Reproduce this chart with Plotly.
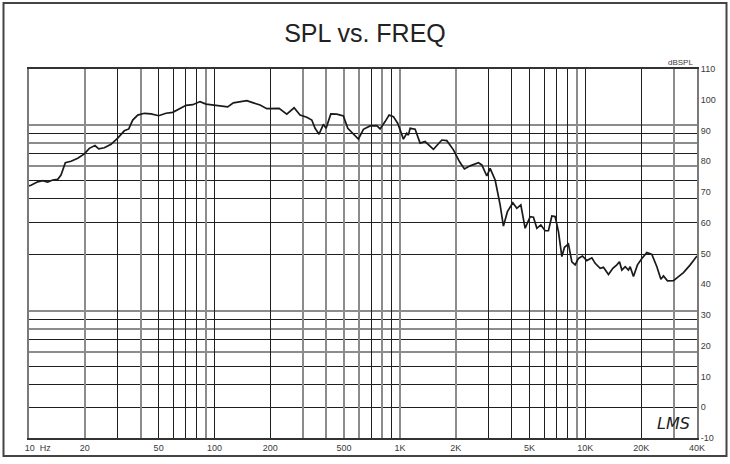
import math
import plotly.graph_objects as go

# ---------------- data ----------------
FREQ_HZ = [10, 10.25, 11.14, 11.86, 12.61, 13.42, 14.28, 14.88, 15.70, 16.85,
           18.31, 19.88, 21.15, 22.70, 23.76, 25.48, 27.69, 30.09, 32.66, 34.50,
           36.25, 38.58, 41.87, 45.50, 50.06, 54.8, 59.6, 64.7, 70.3, 76.4,
           83.6, 90.1, 97.9, 106.3, 117.9, 126.5, 137.5, 149.4, 162.1, 176.2,
           191.5, 207.8, 223.1, 245.5, 268.8, 289.5, 314.7, 334.9, 348.8, 366.6,
           386.7, 399.9, 424, 456.6, 495.7, 523.6, 561.4, 597.4, 635.6, 690.8,
           750.6, 782, 832.2, 874.4, 922.6, 974.3, 1002.5, 1044.5, 1089.5, 1111.3,
           1135, 1208, 1285, 1367.5, 1516, 1683, 1791, 1944, 2094, 2228,
           2391, 2651, 2765, 2942, 3065, 3263, 3471, 3616, 3800, 4064,
           4271, 4488, 4735, 5039, 5250, 5476, 5754, 6070, 6324, 6597,
           6873, 7161, 7470, 7716, 8106, 8456, 8810, 9180, 9647, 10188,
           10842, 11297, 12017, 12518, 13323, 14070, 14787, 15273, 15738, 16396,
           17083, 17444, 18170, 19098, 20172, 21464, 22839, 24302, 25540, 26383,
           27723, 29873, 31783, 33813, 36755, 40000]

SPL_DB = [72.0, 72.2, 73.3, 73.7, 73.2, 73.9, 74.1, 75.5, 79.5, 80.0,
          81.0, 82.4, 84.2, 85.1, 84.0, 84.4, 85.5, 87.5, 89.9, 90.5,
          93.4, 95.0, 95.6, 95.4, 94.8, 95.6, 95.9, 97.0, 98.2, 98.4,
          99.4, 98.6, 98.3, 98.2, 97.7, 99.0, 99.4, 99.7, 99.0, 98.3,
          97.1, 97.2, 97.2, 95.3, 97.4, 95.0, 94.3, 93.4, 90.7, 88.8,
          92.0, 90.7, 95.4, 95.3, 94.7, 90.7, 88.8, 87.2, 90.4, 91.5,
          91.6, 90.5, 92.9, 95.0, 94.5, 92.3, 90.2, 87.2, 89.1, 88.5,
          90.7, 90.4, 85.9, 86.4, 83.9, 86.9, 86.7, 83.7, 79.9, 77.5,
          78.5, 79.5, 78.8, 75.2, 77.7, 73.9, 65.8, 58.9, 63.6, 66.5,
          64.7, 65.8, 58.2, 62.0, 61.8, 58.2, 59.3, 57.4, 57.4, 62.2,
          62.0, 57.1, 49.0, 52.0, 53.1, 47.3, 46.3, 48.4, 49.2, 47.7,
          48.6, 46.8, 45.2, 45.5, 43.2, 45.2, 46.3, 47.3, 44.6, 45.7,
          44.6, 45.7, 42.5, 46.3, 48.4, 50.3, 49.7, 45.7, 41.6, 42.7,
          41.1, 41.2, 42.5, 43.8, 46.3, 49.2]

X_TICK_VALUES = [10, 20, 50, 100, 200, 500, 1000, 2000, 5000, 10000, 20000, 40000]
X_TICK_LABELS = ["10 Hz", "20", "50", "100", "200", "500", "1K", "2K", "5K",
                 "10K", "20K", "40K"]
Y_TICK_VALUES = [110, 100, 90, 80, 70, 60, 50, 40, 30, 20, 10, 0, -10]
Y_TICK_LABELS = ["110", "100", "90", "80", "70", "60", "50", "40", "30", "20",
                 "10", "0", "-10"]

# vertical grid lines (frequencies), grouped by how they are drawn
X_GRID_GRAY = [20, 40, 90, 300, 400, 500, 600, 800, 1000, 2000, 9000, 30000]
X_GRID_DARK = [30, 50, 60, 70, 80, 100, 200, 700, 900, 3000, 4000, 5000,
               6000, 7000, 8000, 10000, 20000]
# horizontal grid: a logarithmic ruling (mantissas per decade)
Y_GRID_GRAY_MANT = [1, 6, 8]
Y_GRID_DARK_MANT = [2, 3, 4, 5, 7, 9]
Y_GRID_DECADES = [0.1, 1, 10]

# ---------------- styling / layout ----------------
W, H = 730, 464
M_L, M_R, M_T, M_B = 29, 33, 69, 26
PW, PH = W - M_L - M_R, H - M_T - M_B

FONT = "Liberation Sans, Arial, Helvetica, sans-serif"
GRAY = "#8c8c8c"
DARK = "#1e1e1e"

x_range = [math.log10(10), math.log10(40000)]
px_per_decade = 185.7
yg_top = math.log10(20)
yg_range = [yg_top - PH / px_per_decade, yg_top]

yg_gray = [m * d for d in Y_GRID_DECADES for m in Y_GRID_GRAY_MANT]
yg_dark = [m * d for d in Y_GRID_DECADES for m in Y_GRID_DARK_MANT]

x_text = []
for t in X_TICK_LABELS:
    if t.endswith("Hz"):
        num = t.split(" ")[0]
        x_text.append("\u00a0" * 7 + num + "\u00a0\u00a0Hz")
    else:
        x_text.append(t)

fig = go.Figure()
# empty helper traces so that the overlaid grid axes are created
for xa, ya in [("x2", "y"), ("x3", "y"), ("x", "y2"), ("x", "y3")]:
    fig.add_trace(go.Scatter(x=[], y=[], xaxis=xa, yaxis=ya, mode="lines",
                             showlegend=False, hoverinfo="skip"))

fig.add_trace(go.Scatter(
    x=FREQ_HZ, y=SPL_DB, mode="lines",
    line=dict(color="#1a1a1a", width=1.7),
    showlegend=False, hovertemplate="%{x} Hz: %{y} dB<extra></extra>"))

tickfont = dict(family=FONT, size=9, color="#3a3a3a")

grid_axis_common = dict(showticklabels=False, showgrid=True, ticks="",
                        zeroline=False, showline=False, automargin=False,
                        tickmode="array")

fig.update_layout(
    width=W, height=H,
    margin=dict(l=M_L, r=M_R, t=M_T, b=M_B, pad=0, autoexpand=False),
    paper_bgcolor="white", plot_bgcolor="white",
    showlegend=False,
    title=dict(text="SPL vs. FREQ", x=0.5, xref="container", xanchor="center",
               y=1 - 33 / H, yref="container", yanchor="middle",
               font=dict(family=FONT, size=25, color="#222222")),
    xaxis=dict(type="log", range=x_range, tickmode="array",
               tickvals=X_TICK_VALUES, ticktext=x_text, tickfont=tickfont,
               showgrid=False, zeroline=False, ticks="", automargin=False,
               showline=True, mirror=True, linecolor="#333333", linewidth=1.5),
    xaxis2=dict(type="log", range=x_range, overlaying="x", anchor="y",
                tickvals=X_GRID_GRAY, gridcolor=GRAY, gridwidth=2,
                **grid_axis_common),
    xaxis3=dict(type="log", range=x_range, overlaying="x", anchor="y",
                tickvals=X_GRID_DARK, gridcolor=DARK, gridwidth=1,
                **grid_axis_common),
    yaxis=dict(range=[-10, 110], side="right", tickmode="array",
               tickvals=Y_TICK_VALUES, ticktext=Y_TICK_LABELS,
               tickfont=tickfont, showgrid=False,
               zeroline=False, ticks="", automargin=False,
               showline=True, mirror=True,
               linecolor="#7a7a7a", linewidth=2),
    yaxis2=dict(type="log", range=yg_range, overlaying="y", anchor="x",
                tickvals=yg_gray, gridcolor=GRAY, gridwidth=2,
                **grid_axis_common),
    yaxis3=dict(type="log", range=yg_range, overlaying="y", anchor="x",
                tickvals=yg_dark, gridcolor=DARK, gridwidth=1,
                **grid_axis_common),
)

def px_to_paper_x(px):
    return (px - M_L) / PW

def px_to_paper_y(py):
    return (M_T + PH - py) / PH

fig.add_annotation(text="dBSPL", xref="paper", yref="paper",
                   x=px_to_paper_x(695), y=px_to_paper_y(63),
                   xanchor="right", yanchor="middle", showarrow=False,
                   font=dict(family=FONT, size=8, color="#3a3a3a"))
fig.add_annotation(text="<i>LMS</i>", xref="paper", yref="paper",
                   x=px_to_paper_x(673), y=px_to_paper_y(423),
                   xanchor="center", yanchor="middle", showarrow=False,
                   font=dict(family="DejaVu Sans", size=16, color="#222222"))

# outer frame of the picture
fig.add_shape(type="rect", xref="paper", yref="paper",
              x0=px_to_paper_x(3.5), x1=px_to_paper_x(726.5),
              y0=px_to_paper_y(456), y1=px_to_paper_y(3),
              line=dict(color="#444444", width=2), fillcolor="rgba(0,0,0,0)",
              layer="above")

fig.write_html("out.html",
               config={"displayModeBar": False},
               post_script="document.body.style.margin='0';"
                           "document.body.style.padding='0';")
